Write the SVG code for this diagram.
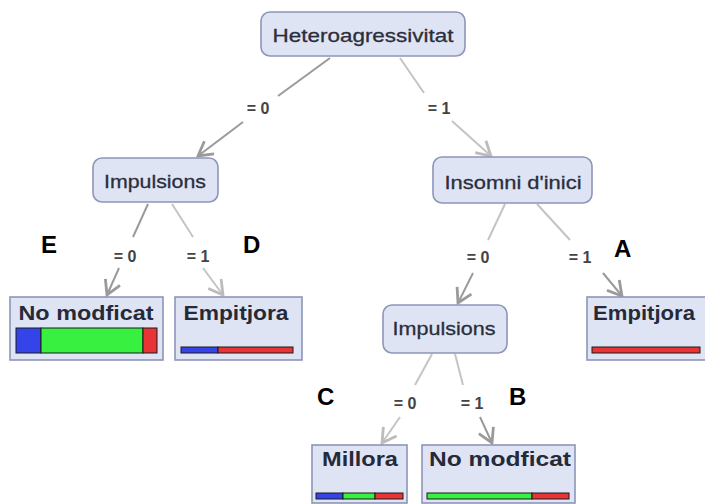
<svg xmlns="http://www.w3.org/2000/svg" width="705" height="504" viewBox="0 0 705 504">
  <style>
    .node { fill: #dfe4f5; stroke: #8e95b8; stroke-width: 1.6; }
    .leaf { fill: #dfe4f5; stroke: #8e95b8; stroke-width: 1.6; }
    .ntext { font-family: "Liberation Sans", Arial, sans-serif; font-size: 19px; fill: #2a2e3a; stroke: #2a2e3a; stroke-width: 0.3; text-anchor: middle; }
    .ltext { font-family: "Liberation Sans", Arial, sans-serif; font-size: 21px; font-weight: bold; fill: #262a38; text-anchor: middle; }
    .etext { font-family: "Liberation Sans", Arial, sans-serif; font-size: 16px; font-weight: bold; fill: #444; text-anchor: middle; }
    .tag { font-family: "Liberation Sans", Arial, sans-serif; font-size: 24px; font-weight: bold; fill: #000; }
    .dark { stroke: #9a9a9a; stroke-width: 2; fill: none; }
    .light { stroke: #c4c4c4; stroke-width: 2; fill: none; }
    .bar { stroke: #1a1a1a; stroke-width: 1; }
    .blue { fill: #3444e8; }
    .green { fill: #38f040; }
    .red { fill: #e83434; }
  </style>
  <defs>
    <marker id="arrDark" markerUnits="userSpaceOnUse" viewBox="-15 -10 17 20" refX="0" refY="0" markerWidth="17" markerHeight="20" orient="auto">
      <path d="M-14,-8 L0,0 L-14,8" fill="none" stroke="#9a9a9a" stroke-width="2.8"/>
    </marker>
    <marker id="arrLight" markerUnits="userSpaceOnUse" viewBox="-15 -10 17 20" refX="0" refY="0" markerWidth="17" markerHeight="20" orient="auto">
      <path d="M-14,-8 L0,0 L-14,8" fill="none" stroke="#bcbcbc" stroke-width="2.8"/>
    </marker>
  </defs>

  <!-- connectors -->
  <g id="connectors">
    <line class="dark" x1="330" y1="58" x2="278" y2="96"/>
    <line class="dark" x1="243" y1="122" x2="198" y2="156" marker-end="url(#arrDark)"/>
    <text class="etext" x="258" y="114">= 0</text>

    <line class="light" x1="400" y1="58" x2="424" y2="93"/>
    <line class="light" x1="452" y1="121" x2="491" y2="156" marker-end="url(#arrLight)"/>
    <text class="etext" x="439" y="114">= 1</text>

    <line class="dark" x1="148" y1="204" x2="133" y2="237"/>
    <line class="dark" x1="119" y1="268" x2="107" y2="295" marker-end="url(#arrDark)"/>
    <text class="etext" x="125" y="262">= 0</text>

    <line class="light" x1="172" y1="204" x2="193" y2="237"/>
    <line class="light" x1="203" y1="268" x2="223" y2="295" marker-end="url(#arrLight)"/>
    <text class="etext" x="198" y="262">= 1</text>

    <line class="light" x1="505" y1="204" x2="488" y2="240"/>
    <line class="dark" x1="473" y1="273" x2="458" y2="303" marker-end="url(#arrDark)"/>
    <text class="etext" x="478" y="263">= 0</text>

    <line class="light" x1="537" y1="204" x2="570" y2="240"/>
    <line class="dark" x1="603" y1="273" x2="622" y2="296" marker-end="url(#arrDark)"/>
    <text class="etext" x="580" y="263">= 1</text>

    <line class="light" x1="432" y1="354" x2="415" y2="385"/>
    <line class="light" x1="400" y1="417" x2="382" y2="443" marker-end="url(#arrLight)"/>
    <text class="etext" x="405" y="409">= 0</text>

    <line class="light" x1="455" y1="354" x2="463" y2="385"/>
    <line class="dark" x1="480" y1="417" x2="492" y2="443" marker-end="url(#arrDark)"/>
    <text class="etext" x="472" y="409">= 1</text>
  </g>

  <!-- decision nodes -->
  <g id="root">
    <rect class="node" x="261" y="12" width="204" height="44" rx="9"/>
    <text class="ntext" x="363" y="42" textLength="181" lengthAdjust="spacingAndGlyphs">Heteroagressivitat</text>
  </g>
  <g id="impulsions-left">
    <rect class="node" x="93" y="158" width="125" height="44" rx="9"/>
    <text class="ntext" x="155" y="188" textLength="102" lengthAdjust="spacingAndGlyphs">Impulsions</text>
  </g>
  <g id="insomni">
    <rect class="node" x="433" y="157" width="159" height="46" rx="9"/>
    <text class="ntext" x="513" y="189" textLength="137" lengthAdjust="spacingAndGlyphs">Insomni d'inici</text>
  </g>
  <g id="impulsions-right">
    <rect class="node" x="383" y="305" width="124" height="48" rx="9"/>
    <text class="ntext" x="444" y="335" textLength="103" lengthAdjust="spacingAndGlyphs">Impulsions</text>
  </g>

  <!-- leaves -->
  <g id="leaf-e">
    <rect class="leaf" x="10" y="297" width="153" height="63"/>
    <text class="ltext" x="86" y="320" textLength="135" lengthAdjust="spacingAndGlyphs">No modficat</text>
    <rect class="bar blue" x="16" y="328" width="25" height="25"/>
    <rect class="bar green" x="41" y="328" width="102" height="25"/>
    <rect class="bar red" x="143" y="328" width="14" height="25"/>
  </g>
  <g id="leaf-d">
    <rect class="leaf" x="175" y="297" width="127" height="63"/>
    <text class="ltext" x="236" y="320" textLength="105" lengthAdjust="spacingAndGlyphs">Empitjora</text>
    <rect class="bar blue" x="181" y="347" width="37" height="6"/>
    <rect class="bar red" x="218" y="347" width="75" height="6"/>
  </g>
  <g id="leaf-a">
    <rect class="leaf" x="587" y="297" width="125" height="63"/>
    <text class="ltext" x="644" y="320" textLength="102" lengthAdjust="spacingAndGlyphs">Empitjora</text>
    <rect class="bar red" x="592" y="347" width="108" height="6"/>
  </g>
  <g id="leaf-c">
    <rect class="leaf" x="312" y="445" width="95" height="58"/>
    <text class="ltext" x="360" y="466" textLength="76" lengthAdjust="spacingAndGlyphs">Millora</text>
    <rect class="bar blue" x="316" y="493" width="27" height="6"/>
    <rect class="bar green" x="343" y="493" width="32" height="6"/>
    <rect class="bar red" x="375" y="493" width="28" height="6"/>
  </g>
  <g id="leaf-b">
    <rect class="leaf" x="422" y="445" width="153" height="58"/>
    <text class="ltext" x="500" y="466" textLength="142" lengthAdjust="spacingAndGlyphs">No modficat</text>
    <rect class="bar green" x="427" y="493" width="105" height="6"/>
    <rect class="bar red" x="532" y="493" width="37" height="6"/>
  </g>

  <!-- outcome letters -->
  <g id="tags">
    <text class="tag" x="41" y="253">E</text>
    <text class="tag" x="243" y="253">D</text>
    <text class="tag" x="614" y="257">A</text>
    <text class="tag" x="317" y="405">C</text>
    <text class="tag" x="509" y="405">B</text>
  </g>
</svg>
